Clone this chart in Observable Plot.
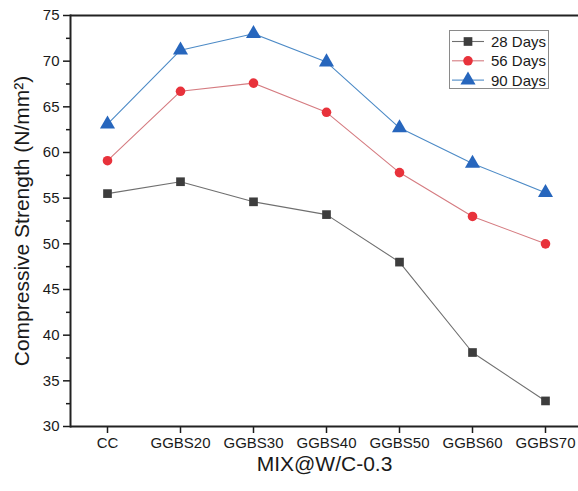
<!DOCTYPE html>
<html>
<head>
<meta charset="utf-8">
<script src="https://cdn.jsdelivr.net/npm/d3@7"></script>
<script src="https://cdn.jsdelivr.net/npm/@observablehq/plot@0.6"></script>
<style>
  html, body { margin: 0; padding: 0; background: #fff; overflow: hidden; }
  svg { font-family: "Liberation Sans", Arial, sans-serif; }
</style>
</head>
<body>
<div id="chart"></div>
<script>
const categories = ["CC", "GGBS20", "GGBS30", "GGBS40", "GGBS50", "GGBS60", "GGBS70"];
const days28 = [55.5, 56.8, 54.6, 53.2, 48.0, 38.1, 32.8];
const days56 = [59.1, 66.7, 67.6, 64.4, 57.8, 53.0, 50.0];
const days90 = [63.1, 71.2, 73.0, 69.9, 62.7, 58.8, 55.6];
const seriesNames = ["28 Days", "56 Days", "90 Days"];
const yTicks = [30, 35, 40, 45, 50, 55, 60, 65, 70, 75];
const yMinorTicks = [32.5, 37.5, 42.5, 47.5, 52.5, 57.5, 62.5, 67.5, 72.5];
const yLabel = "Compressive Strength (N/mm²)";
const xLabel = "MIX@W/C-0.3";

const styles = {
  "28 Days": {line: "#6f6f6f", fill: "#3d3d3d", symbol: "square", r: 4.9},
  "56 Days": {line: "#d57b80", fill: "#e8323b", symbol: "circle", r: 4.8},
  "90 Days": {line: "#4c8ac6", fill: "#2766bd", symbol: "triangle", r: 5.6}
};

const seriesValues = [days28, days56, days90];
const table = [];
seriesNames.forEach((s, i) => {
  categories.forEach((c, j) => table.push({series: s, mix: c, value: seriesValues[i][j]}));
});

const W = 578, H = 491;
const marks = [];
for (const s of seriesNames) {
  const d = table.filter(t => t.series === s);
  marks.push(Plot.line(d, {x: "mix", y: "value", stroke: styles[s].line, strokeWidth: 1.1}));
  marks.push(Plot.dot(d, {x: "mix", y: "value", fill: styles[s].fill, symbol: styles[s].symbol, r: styles[s].r, stroke: "none"}));
}

const svg = Plot.plot({
  width: W,
  height: H,
  marginLeft: 70,
  marginRight: 0,
  marginTop: 15,
  marginBottom: 65,
  style: {fontFamily: "'Liberation Sans', Arial, sans-serif", background: "#fff", color: "#1a1a1a"},
  x: {type: "point", domain: categories, range: [70, 581.5], padding: 0.5},
  y: {domain: [30, 75]},
  marks: [
    Plot.axisY({ticks: yMinorTicks, tickSize: 4, text: null, strokeWidth: 1.5, label: null}),
    Plot.axisY({ticks: yTicks, tickSize: 7, tickPadding: 4, fontSize: 15, strokeWidth: 1.5, label: null, tickFormat: d3.format("d")}),
    Plot.axisX({tickSize: 7, tickPadding: 4, fontSize: 15, strokeWidth: 1.5, label: null}),
    Plot.frame({anchor: "left", stroke: "#222", strokeWidth: 2}),
    Plot.ruleY([30], {stroke: "#222", strokeWidth: 2}),
    Plot.ruleY([75], {stroke: "#222", strokeWidth: 2}),
    ...marks,
    Plot.text([yLabel], {frameAnchor: "left", textAnchor: "middle", dx: -48, rotate: -90, fontSize: 21, fill: "#1a1a1a"}),
    Plot.text([xLabel], {frameAnchor: "bottom", textAnchor: "middle", dy: 44, fontSize: 21, fill: "#1a1a1a"})
  ]
});

document.getElementById("chart").appendChild(svg);

// Legend
const g = d3.select(svg).append("g").attr("class", "legend").attr("text-anchor", "start");
g.append("rect").attr("x", 449.5).attr("y", 30.5).attr("width", 99).attr("height", 58)
  .attr("fill", "#fff").attr("stroke", "#8a8a8a").attr("stroke-width", 1);
seriesNames.forEach((s, i) => {
  const y = 41.5 + i * 19.3;
  const st = styles[s];
  g.append("line").attr("x1", 452).attr("x2", 484).attr("y1", y).attr("y2", y)
    .attr("stroke", st.line).attr("stroke-width", 1.1);
  const sym = st.symbol === "square" ? d3.symbolSquare : st.symbol === "circle" ? d3.symbolCircle : d3.symbolTriangle;
  g.append("path").attr("transform", `translate(468,${y})`)
    .attr("d", d3.symbol(sym, Math.PI * st.r * st.r)())
    .attr("fill", st.fill);
  g.append("text").attr("x", 491).attr("y", y).attr("dy", "0.36em").attr("text-anchor", "start")
    .attr("font-size", 15).attr("fill", "#1a1a1a").text(s);
});
</script>
</body>
</html>
